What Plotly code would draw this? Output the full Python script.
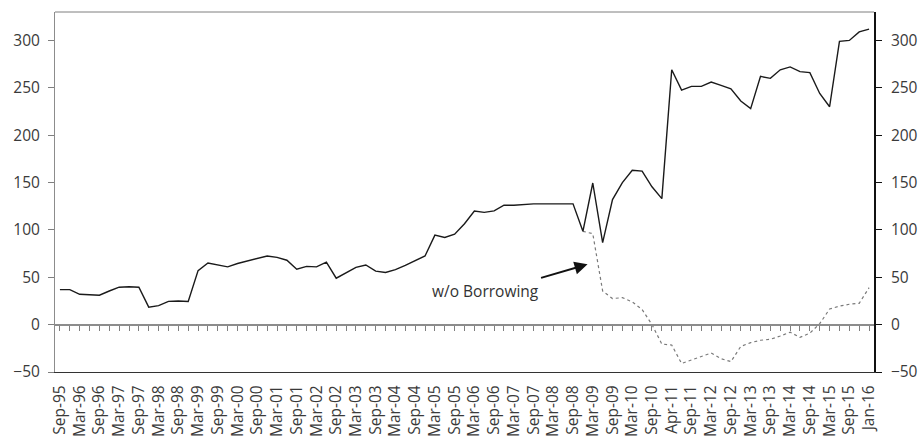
import plotly.graph_objects as go

categories = [
    "Sep-95", "Dec-95", "Mar-96", "Jun-96", "Sep-96", "Dec-96", "Mar-97", "Jun-97",
    "Sep-97", "Dec-97", "Mar-98", "Jun-98", "Sep-98", "Dec-98", "Mar-99", "Jun-99",
    "Sep-99", "Dec-99", "Mar-00", "Jun-00", "Sep-00", "Dec-00", "Mar-01", "Jun-01",
    "Sep-01", "Dec-01", "Mar-02", "Jun-02", "Sep-02", "Dec-02", "Mar-03", "Jun-03",
    "Sep-03", "Dec-03", "Mar-04", "Jun-04", "Sep-04", "Dec-04", "Mar-05", "Jun-05",
    "Sep-05", "Dec-05", "Mar-06", "Jun-06", "Sep-06", "Dec-06", "Mar-07", "Jun-07",
    "Sep-07", "Dec-07", "Mar-08", "Jun-08", "Sep-08", "Dec-08", "Mar-09", "Jun-09",
    "Sep-09", "Dec-09", "Mar-10", "Jun-10", "Sep-10", "Dec-10", "Apr-11", "Jun-11",
    "Sep-11", "Dec-11", "Mar-12", "Jun-12", "Sep-12", "Dec-12", "Mar-13", "Jun-13",
    "Sep-13", "Dec-13", "Mar-14", "Jun-14", "Sep-14", "Dec-14", "Mar-15", "Jun-15",
    "Sep-15", "Dec-15", "Jan-16",
]

tick_labels = categories[::2]

with_borrowing = [
    37, 37, 32, 31.5, 31, 35.5, 39.5, 40,
    39.5, 18.5, 20, 24.5, 25, 24.5, 57, 65,
    63, 61, 64.5, 67, 69.5, 72.5, 71, 68,
    58.5, 61.5, 61, 66, 49, 55, 60.5, 63,
    56.5, 55, 58, 62.5, 67.5, 72.5, 94.5, 92,
    95.5, 106.5, 120, 118.5, 120, 126, 126, 127,
    127.5, 127.5, 127.5, 127.5, 127.5, 98.5, 149.5, 86.5,
    132, 150, 163, 162, 145.5, 133, 269, 247.5,
    251.5, 251.5, 256, 252.5, 249, 236, 228, 262,
    260, 269, 272, 267, 266, 244, 230, 299,
    300, 309, 312,
]

without_borrowing = [None] * 53 + [
    98.5, 96, 35.5, 27.5, 28.5, 24, 16, 0,
    -20.5, -21.5, -41, -37.5, -33.5, -30, -36, -39,
    -23, -19, -16.5, -15.5, -12, -8, -13.5, -9,
    1, 16.5, 19.5, 21.5, 22.5, 39,
]

y_ticks = [-50, 0, 50, 100, 150, 200, 250, 300]
y_range = [-50, 330]

font_family = "Open Sans, Noto Sans, sans-serif"
text_color = "#3a3a3a"
fs = 15.5

fig = go.Figure()

# helper trace (draws nothing) so the secondary axes know the categories
fig.add_trace(go.Scatter(x=categories, y=with_borrowing, mode="none",
                         xaxis="x2", yaxis="y2", showlegend=False, hoverinfo="skip"))

fig.add_trace(go.Scatter(x=categories, y=without_borrowing, mode="lines",
                         line=dict(color="#7a7a7a", width=1.2, dash="dot"),
                         showlegend=False, connectgaps=False))

fig.add_trace(go.Scatter(x=categories, y=with_borrowing, mode="lines",
                         line=dict(color="#1a1a1a", width=1.4),
                         showlegend=False))

zero_pos = (0 - y_range[0]) / (y_range[1] - y_range[0])
x_range = [-0.5, len(categories) - 0.5]

fig.update_layout(
    width=918, height=436,
    margin=dict(l=55, r=44, t=12, b=64, autoexpand=False),
    paper_bgcolor="white", plot_bgcolor="white",
    font=dict(family=font_family, size=fs, color=text_color),
    xaxis=dict(
        type="category", categoryorder="array", categoryarray=categories,
        range=x_range, tickmode="array", tickvals=tick_labels, ticktext=tick_labels,
        tickangle=-90, ticks="", showgrid=False, zeroline=False, automargin=False,
        showline=True, linecolor="#333333", linewidth=1.3,
        ticklabelstandoff=6, tickfont=dict(size=fs, color=text_color),
    ),
    xaxis2=dict(
        type="category", categoryorder="array", categoryarray=categories,
        range=x_range, overlaying="x", anchor="free", position=zero_pos, side="bottom",
        tickmode="array", tickvals=categories, showticklabels=False, automargin=False,
        ticks="outside", ticklen=5, tickwidth=1, tickcolor="#7f7f7f",
        showline=True, linecolor="#8c8c8c", linewidth=2, showgrid=False, zeroline=False,
    ),
    yaxis=dict(
        range=y_range, tickmode="array", tickvals=y_ticks, automargin=False,
        ticks="outside", ticklen=6, tickcolor="#7f7f7f",
        showline=True, linecolor="#8c8c8c", linewidth=1,
        showgrid=False, zeroline=False, ticklabelstandoff=5,
        tickfont=dict(size=fs, color=text_color),
    ),
    yaxis2=dict(
        range=y_range, tickmode="array", tickvals=y_ticks, automargin=False,
        overlaying="y", side="right", anchor="x",
        ticks="outside", ticklen=6, tickcolor="#111111",
        showline=True, linecolor="#111111", linewidth=1.6,
        showgrid=False, zeroline=False, ticklabelstandoff=6,
        tickfont=dict(size=fs, color=text_color),
    ),
    shapes=[dict(type="line", xref="paper", yref="paper", x0=0, x1=1, y0=1, y1=1,
                 line=dict(color="#7f7f7f", width=1))],
    annotations=[
        dict(x=43.1, y=35.8, xref="x", yref="y", text="w/o Borrowing",
             showarrow=False, font=dict(size=fs, color="#333333")),
        dict(x=53.47, y=63.7, xref="x", yref="y", text="", showarrow=True,
             ax=-48, ay=14, arrowhead=2, arrowsize=1.3, arrowwidth=2, arrowcolor="#111111"),
    ],
)

fig.write_html("out.html", config={"displayModeBar": False},
               post_script="document.body.style.margin='0px';document.body.style.overflow='hidden';")
